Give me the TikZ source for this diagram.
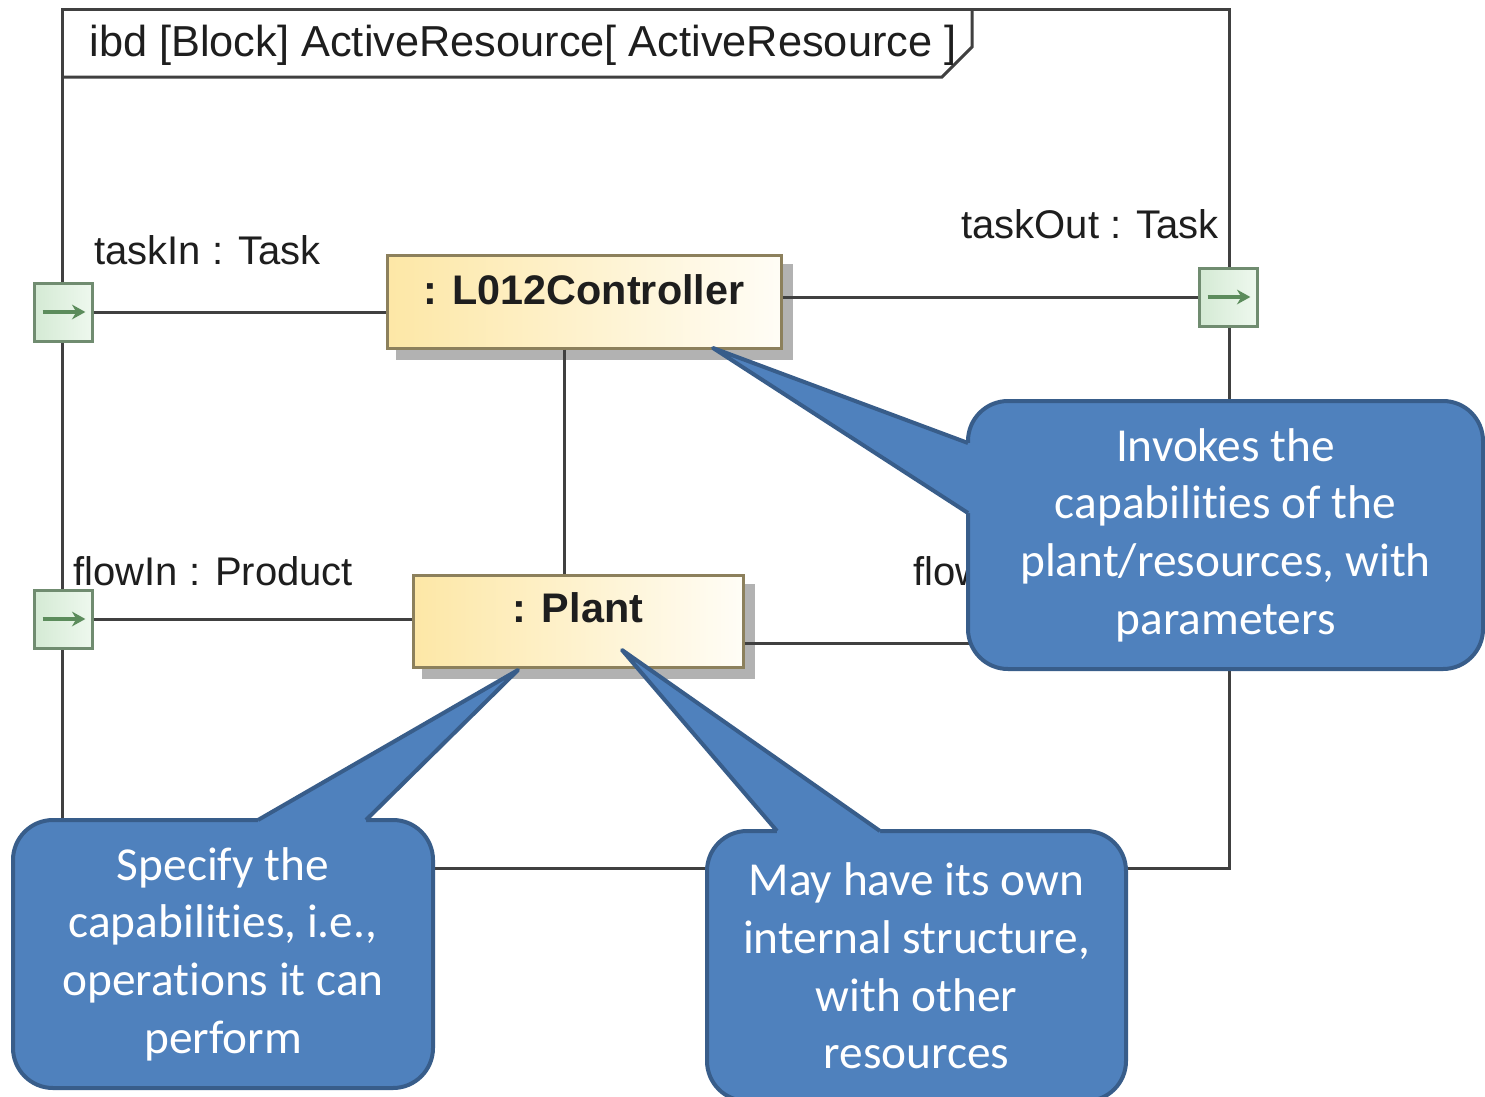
\documentclass[tikz,border=0pt]{standalone}
\usepackage{fontspec}
\setmainfont{Liberation Sans}
\newfontfamily\notefont[Ligatures=NoCommon]{Carlito}
\usetikzlibrary{arrows.meta,backgrounds}

\definecolor{lineGray}{RGB}{64,64,64}
\definecolor{labelText}{RGB}{30,30,30}
\definecolor{blockBorder}{RGB}{140,128,92}
\definecolor{blockLeft}{RGB}{253,231,166}
\definecolor{blockRight}{RGB}{255,253,246}
\definecolor{blockShadow}{RGB}{178,178,178}
\definecolor{portBorder}{RGB}{112,140,112}
\definecolor{portLeft}{RGB}{212,234,212}
\definecolor{portRight}{RGB}{238,248,238}
\definecolor{portArrow}{RGB}{92,140,92}
\definecolor{noteFill}{RGB}{79,129,189}
\definecolor{noteBorder}{RGB}{56,93,138}

\tikzset{every picture/.style={line width=0.75pt}}
\tikzset{
  frameline/.style={draw=lineGray, line width=2.25pt},
  connector/.style={draw=lineGray, line width=2.25pt},
  block/.style={draw=blockBorder, line width=2.25pt, left color=blockLeft, right color=blockRight,
    inner xsep=0pt, inner ysep=0pt, text=labelText, font=\bfseries\fontsize{31}{36}\selectfont},
  port/.style={draw=portBorder, line width=2.25pt, left color=portLeft, right color=portRight,
    minimum size=43.5pt, inner sep=0pt,
    path picture={\draw[portArrow, line width=2.6pt, -{Stealth[length=10pt,width=11pt]}]
      ([xshift=6.5pt]path picture bounding box.west) -- ([xshift=-5pt]path picture bounding box.east);}},
  portlabel/.style={anchor=base west, inner sep=0.75pt, text=labelText, font=\fontsize{30}{36}\selectfont},
  note/.style={fill=noteFill, draw=noteBorder, line width=3pt, rounded corners=30pt, inner sep=0pt,
    align=center, text=white, font=\notefont\fontsize{35.5}{43.2}\selectfont},
  notetip/.style={fill=noteFill},
  noteedge/.style={draw=noteBorder, line width=3pt, line join=round}
}

\begin{document}
\begin{tikzpicture}[x=0.75pt,y=0.75pt,yscale=-1,xscale=1]
\useasboundingbox (0,0) rectangle (1485,1096);

%Shape: Frame
\draw [frameline] (62,9) rectangle (1229,868) ;
%Shape: Frame tab
\draw [frameline] (62,77) -- (942,77) -- (972,47) -- (972,9) ;
% Text Node
\draw (88,56) node (title) [portlabel, font=\fontsize{32.5}{38}\selectfont] {ibd [Block] ActiveResource[ ActiveResource ]};

%Shape: Block
\draw (584,301.5) node (ctrl) [block, minimum width=295.5pt, text height=36.75pt, text depth=33pt] {: L012Controller};
%Shape: Block
\draw (578,621) node (plant) [block, minimum width=247.5pt, text height=35.25pt, text depth=33.75pt] {: Plant};

%Shape: Port
\draw (63,312) node (taskIn) [port] {};
%Shape: Port
\draw (1228,297) node (taskOut) [port] {};
%Shape: Port
\draw (63,619) node (flowIn) [port] {};
\coordinate (flowOut) at (1229,643);

%Straight Lines
\draw [connector] (taskIn.east) -- (taskIn.east -| ctrl.west) ;
%Straight Lines
\draw [connector] (ctrl.east |- taskOut.west) -- (taskOut.west) ;
%Straight Lines
\draw [connector] ([xshift=-15pt]ctrl.south) -- ([xshift=-15pt]ctrl.south |- plant.north) ;
%Straight Lines
\draw [connector] (flowIn.east) -- (flowIn.east -| plant.west) ;
%Straight Lines
\draw [connector] (flowOut -| plant.east) -- (flowOut) ;

% Text Node
\draw (93,264) node (lblTaskIn) [portlabel] {taskIn : Task};
% Text Node
\draw (960,238) node (lblTaskOut) [portlabel] {taskOut : Task};
% Text Node
\draw (72,585) node (lblFlowIn) [portlabel] {flowIn : Product};
% Text Node
\draw (912,585) node (lblFlowOut) [portlabel] {flowOut : Product};

%Shape: Shadows
\begin{scope}[on background layer]
\fill [white] (0,0) rectangle (1485,1096) ;
\fill [blockShadow] ([shift={(10,10)}]ctrl.north west) rectangle ([shift={(10,10)}]ctrl.south east) ;
\fill [blockShadow] ([shift={(10,10)}]plant.north west) rectangle ([shift={(10,10)}]plant.south east) ;
\end{scope}

%Shape: Callout
\coordinate (tipInvoke) at (713,348);
\draw (1225.5,535) node (noteInvoke) [note, minimum width=386.25pt, minimum height=201pt] {Invokes the\\capabilities of the\\plant/resources, with\\parameters};
\fill [notetip] (968,443) -- (tipInvoke) -- (968,513) -- (974,513) -- (974,443) -- cycle ;
\draw [noteedge] (968,443) -- (tipInvoke) -- (968,513) ;

%Shape: Callout
\coordinate (tipSpecify) at (518,670);
\draw (223,954) node (noteSpecify) [note, minimum width=315pt, minimum height=201pt] {Specify the\\capabilities, i.e.,\\operations it can\\perform};
\fill [notetip] (258,820) -- (tipSpecify) -- (366,820) -- (366,826) -- (258,826) -- cycle ;
\draw [noteedge] (258,820) -- (tipSpecify) -- (366,820) ;

%Shape: Callout
\coordinate (tipStructure) at (622,650);
\draw (916.5,966) node (noteStructure) [note, minimum width=314.25pt, minimum height=202.5pt] {May have its own\\internal structure,\\with other\\resources};
\fill [notetip] (777,831) -- (tipStructure) -- (880,831) -- (880,837) -- (777,837) -- cycle ;
\draw [noteedge] (777,831) -- (tipStructure) -- (880,831) ;

\end{tikzpicture}
\end{document}
